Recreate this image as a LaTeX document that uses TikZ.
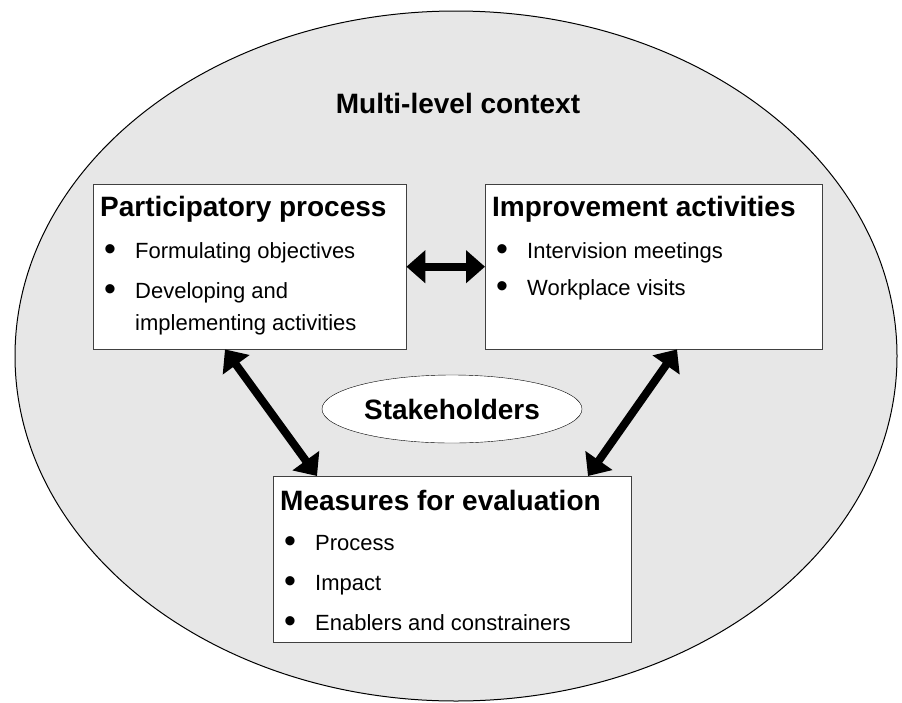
\documentclass[tikz,border=0pt]{standalone}
\usepackage{fontspec}
\setmainfont{Liberation Sans}
\usetikzlibrary{positioning,arrows.meta,shapes.geometric}

\definecolor{ctxgray}{gray}{0.905}
\definecolor{boxline}{gray}{0.25}

% bullet rows inside the boxes
\newcommand{\bul}{\hspace*{4pt}\makebox[31pt][l]{\raisebox{-2.5pt}{\fontsize{34}{34}\selectfont\textbullet}}}
\newcommand{\cont}{\hspace*{35pt}}
\newcommand{\head}[1]{{\fontsize{28}{32}\selectfont\bfseries #1}}

\begin{document}
\begin{tikzpicture}[x=1pt, y=-1pt,
    panel/.style={rectangle, draw=boxline, fill=white, inner xsep=7pt,
      inner ysep=0pt, anchor=north west, font=\fontsize{22}{32}\selectfont},
    link/.style={{Triangle[length=19pt,width=32pt]}-{Triangle[length=19pt,width=32pt]},
      line width=8pt}
  ]
  \useasboundingbox (0,0) rectangle (902,702);

  % context
  \node [ellipse, draw, line width=1pt, fill=ctxgray, minimum width=882pt,
    minimum height=690pt, inner sep=0pt] (ctx) at (456,356) {};
  \node [anchor=base, font=\fontsize{28}{32}\selectfont\bfseries] (title) at (458,113) {Multi-level context};

  % boxes
  \node [panel] (part) at (93,184) {\parbox[t][165pt][t]{299pt}{\vspace*{12pt}%
      \head{Participatory process}\\[10pt]
      \bul Formulating objectives\\[8pt]
      \bul Developing and\\
      \cont implementing activities}};
  \node [panel] (impr) at (485,184) {\parbox[t][165pt][t]{323pt}{\vspace*{12pt}%
      \head{Improvement activities}\\[10pt]
      \bul Intervision meetings\\[5pt]
      \bul Workplace visits}};
  \node [panel] (meas) at (273,476) {\parbox[t][166pt][t]{344pt}{\vspace*{14pt}%
      \head{Measures for evaluation}\\[8pt]
      \bul Process\\[8pt]
      \bul Impact\\[8pt]
      \bul Enablers and constrainers}};

  \node [ellipse, draw, fill=white, minimum width=260pt, minimum height=68pt,
    inner sep=0pt, font=\fontsize{28}{32}\selectfont\bfseries] (stake) at (452,409) {Stakeholders};

  % arrows
  \draw [link] (part) -- (impr);
  \draw [link] ([xshift=132pt]part.south west) -- ([xshift=44pt]meas.north west);
  \draw [link] ([xshift=192pt]impr.south west) -- ([xshift=315pt]meas.north west);
\end{tikzpicture}
\end{document}
